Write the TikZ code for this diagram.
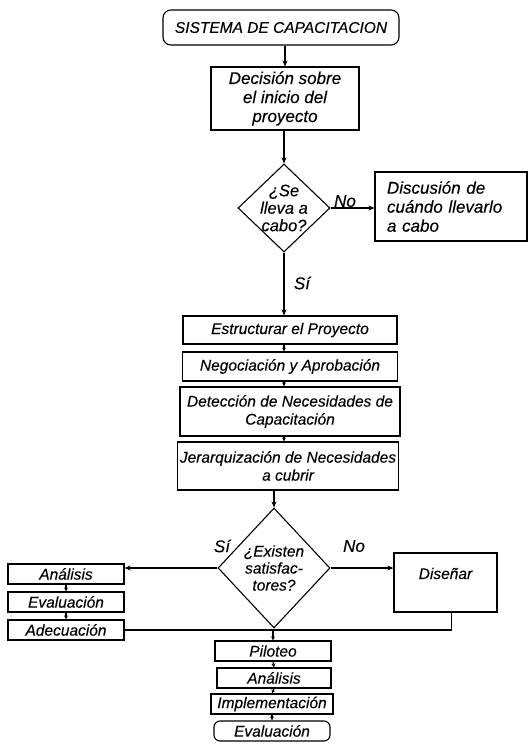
\documentclass[tikz,border=0pt]{standalone}
\usepackage{fontspec}
\setmainfont{Liberation Sans}[ItalicFeatures={FakeBold=0.25}]
\usetikzlibrary{shapes.geometric,arrows.meta}
\begin{document}
\begin{tikzpicture}[x=1pt,y=-1pt,
  every node/.style={font=\itshape\fontsize{15.5}{18}\selectfont},
  bigf/.style={font=\itshape\fontsize{17}{19}\selectfont},
  box/.style={draw,line width=1.1pt,inner sep=2pt,align=center},
  term/.style={box,rounded corners=8pt},
  dia/.style={draw,diamond,line width=1.1pt,inner sep=0pt},
  arr/.style={line width=1.1pt,-{Stealth[length=6pt,width=5pt]}},
  sarr/.style={line width=1.1pt,-{Stealth[length=4pt,width=4pt]}},
  ln/.style={line width=1.1pt},
  lbl/.style={inner sep=0pt}]
\useasboundingbox (0,0) rectangle (529,748);

\node[term,minimum width=236,minimum height=35] (t) at (281,27.5) {SISTEMA DE CAPACITACION};
\node[box,bigf,minimum width=148,minimum height=63] (dec) at (285,98.5) {Decisión sobre\\el inicio del\\proyecto};
\node[dia,minimum width=92,minimum height=88] (d1) at (284,208) {};
\node[lbl,align=center,font=\itshape\fontsize{16.5}{17.5}\selectfont] (d1t) at (d1) {¿Se\\lleva a\\cabo?};
\node[box,bigf,minimum width=152,minimum height=69,text width=128,align=left] (disc) at (451,206.5) {Discusión de\\cuándo llevarlo\\a cabo};
\node[box,minimum width=214,minimum height=28] (est) at (290,330) {Estructurar el Proyecto};
\node[box,minimum width=215,minimum height=29] (neg) at (290,366.5) {Negociación y Aprobación};
\node[box,minimum width=220,minimum height=49] (det) at (290,411.5) {Detección de Necesidades de\\Capacitación};
\node[box,minimum width=220,minimum height=48] (jer) at (288,466) {Jerarquización de Necesidades\\a cubrir};
\node[dia,minimum width=112,minimum height=120] (d2) at (274,568) {};
\node[lbl,align=center,font=\itshape\fontsize{15.5}{17}\selectfont] (d2t) at (d2) {¿Existen\\satisfac-\\tores?};
\node[box,minimum width=116,minimum height=20,inner sep=1pt] (ana1) at (66,574) {Análisis};
\node[box,minimum width=116,minimum height=20,inner sep=1pt] (eva1) at (66,602) {Evaluación};
\node[box,minimum width=116,minimum height=20,inner sep=1pt] (adec) at (66,630) {Adecuación};
\node[box,minimum width=103,text height=22,text depth=29,inner ysep=4pt] (dis) at (445.5,582.5) {Diseñar};
\node[box,minimum width=116,minimum height=20,inner sep=1pt] (pil) at (273,651) {Piloteo};
\node[box,minimum width=114,minimum height=20,inner sep=1pt] (ana2) at (274,678) {Análisis};
\node[box,minimum width=122,minimum height=20,inner sep=1pt] (imp) at (272,704) {Implementación};
\node[term,rounded corners=6pt,minimum width=116,minimum height=20,inner sep=1pt] (eva2) at (272,731) {Evaluación};

\node[lbl,bigf] (no1) at (345,201) {No};
\node[lbl,bigf] (si1) at (302,283) {Sí};
\node[lbl,bigf] (si2) at (222,546) {Sí};
\node[lbl,bigf] (no2) at (354,546) {No};

\draw[arr] (t.south -| dec.north) -- (dec.north);
\draw[arr] (dec.south -| d1.north) -- (d1.north);
\draw[arr] (d1.east) -- (d1.east -| disc.west);
\draw[arr] (d1.south) -- (d1.south |- est.north);
\draw[sarr] (est.south -| d1.south) -- (neg.north -| d1.south);
\draw[sarr] (neg.south -| d1.south) -- (det.north -| d1.south);
\draw[sarr] (det.south -| d1.south) -- (jer.north -| d1.south);
\draw[arr] (jer.south -| d2.north) -- (d2.north);
\draw[arr] (d2.west) -- (d2.west -| ana1.east);
\draw[arr] (d2.east) -- (d2.east -| dis.west);
\draw[sarr] (ana1.south) -- (eva1.north);
\draw[sarr] (eva1.south) -- (adec.north);
\coordinate (j) at (adec.east -| pil.north);
\draw[ln] (adec.east) -- (j);
\draw[ln] ([xshift=6pt]dis.south) |- (j);
\draw[sarr] (j) -- (pil.north);
\draw[sarr] (pil.south) -- (ana2.north);
\draw[sarr] (ana2.south) -- (imp.north);
\draw[sarr] (imp.south) -- (eva2.north);
\end{tikzpicture}
\end{document}
